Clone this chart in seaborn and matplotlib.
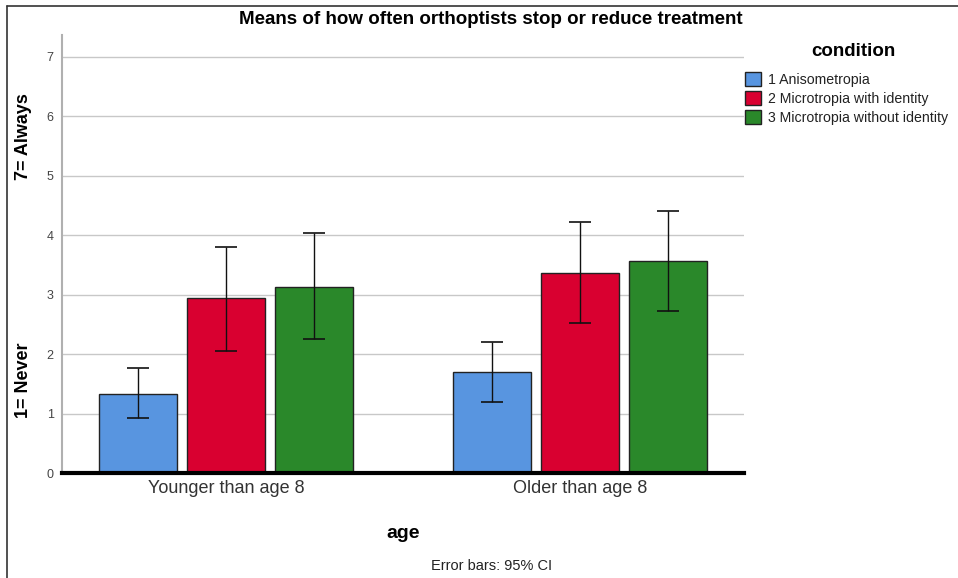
import pandas as pd
import matplotlib
matplotlib.use("Agg")
import matplotlib.pyplot as plt
import seaborn as sns
from matplotlib.patches import Patch
from matplotlib.lines import Line2D

# data
ages = ["Younger than age 8", "Older than age 8"]
conditions = ["1 Anisometropia", "2 Microtropia with identity", "3 Microtropia without identity"]
means_young = [1.33, 2.94, 3.13]
means_old = [1.70, 3.37, 3.57]
ci_low_young = [0.92, 2.06, 2.25]
ci_high_young = [1.76, 3.81, 4.03]
ci_low_old = [1.19, 2.52, 2.73]
ci_high_old = [2.21, 4.22, 4.41]
colors = ["#5895e0", "#d90030", "#2a882a"]

rows = []
for i, c in enumerate(conditions):
    rows.append([ages[0], c, means_young[i], ci_low_young[i], ci_high_young[i]])
    rows.append([ages[1], c, means_old[i], ci_low_old[i], ci_high_old[i]])
df = pd.DataFrame(rows, columns=["age", "condition", "mean", "lo", "hi"])

sns.set_style("white")
plt.rcParams["font.family"] = ["Liberation Sans", "DejaVu Sans"]
plt.rcParams["text.color"] = "black"
plt.rcParams["axes.labelcolor"] = "black"

fig = plt.figure(figsize=(9.58, 5.78), dpi=100)
ax = fig.add_axes([62 / 958, 1 - 473 / 578, (744 - 62) / 958, (473 - 35) / 578])

sns.barplot(data=df, x="age", y="mean", hue="condition", order=ages,
            hue_order=conditions, palette=colors, saturation=1, errorbar=None,
            width=0.746, gap=0.12, edgecolor="#222222", linewidth=1,
            legend=False, ax=ax)

# error bars from the 95% CI values
for patch_group, c in zip(ax.containers, conditions):
    sub = df[df["condition"] == c].set_index("age").loc[ages]
    for bar, (_, r) in zip(patch_group, sub.iterrows()):
        xc = bar.get_x() + bar.get_width() / 2
        ax.errorbar(xc, r["mean"], yerr=[[r["mean"] - r["lo"]], [r["hi"] - r["mean"]]],
                    fmt="none", ecolor="#111111", elinewidth=1, capsize=8,
                    capthick=1.2, zorder=5)

ax.set_xlim(-0.463, 1.463)
ax.set_ylim(0, 7.37)
ax.set_yticks(range(0, 8))
ax.yaxis.grid(True, color="#c8c8c8", linewidth=1)
ax.set_axisbelow(True)
for s in ["top", "right"]:
    ax.spines[s].set_visible(False)
ax.spines["left"].set_color("#b0b0b0")
ax.spines["left"].set_linewidth(1.5)
ax.spines["bottom"].set_color("black")
ax.spines["bottom"].set_linewidth(3)
ax.tick_params(axis="y", length=0, labelsize=9, labelcolor="#444444", pad=6)
ax.tick_params(axis="x", length=0, labelsize=13, labelcolor="#333333", pad=5)
ax.set_xlabel("age", fontsize=14, fontweight="bold", labelpad=20)
ax.set_ylabel("")

fig.text(24 / 958, 1 - 137 / 578, "7= Always", rotation=90, fontsize=13,
         fontweight="bold", ha="center", va="center")
fig.text(24 / 958, 1 - 380 / 578, "1= Never", rotation=90, fontsize=13,
         fontweight="bold", ha="center", va="center")
fig.text(491 / 958, 1 - 20 / 578, "Means of how often orthoptists stop or reduce treatment",
         fontsize=13.5, fontweight="bold", ha="center", va="center")
fig.text(492 / 958, 1 - 566 / 578, "Error bars: 95% CI", fontsize=10.5,
         color="#222222", ha="center", va="center")

# legend: title as separate text, entries below
fig.text(853 / 958, 1 - 52 / 578, "condition", fontsize=13.5,
         fontweight="bold", ha="center", va="center")
handles = [Patch(facecolor=col, edgecolor="#222222", label=c)
           for col, c in zip(colors, conditions)]
leg = fig.legend(handles=handles, loc="upper left",
                 bbox_to_anchor=(745 / 958, 1 - 72 / 578), frameon=False,
                 fontsize=10.2, handlelength=1.15, handleheight=1.15,
                 handletextpad=0.45, labelspacing=0.3, borderaxespad=0,
                 borderpad=0.0)
for t in leg.get_texts():
    t.set_color("#222222")

# frame lines from the screenshot border
fig.add_artist(Line2D([7 / 958, 7 / 958], [0, 1 - 6 / 578], color="#333333", linewidth=1.2))
fig.add_artist(Line2D([7 / 958, 1], [1 - 6 / 578, 1 - 6 / 578], color="#333333", linewidth=1.2))

fig.savefig("out.png", dpi=100)
